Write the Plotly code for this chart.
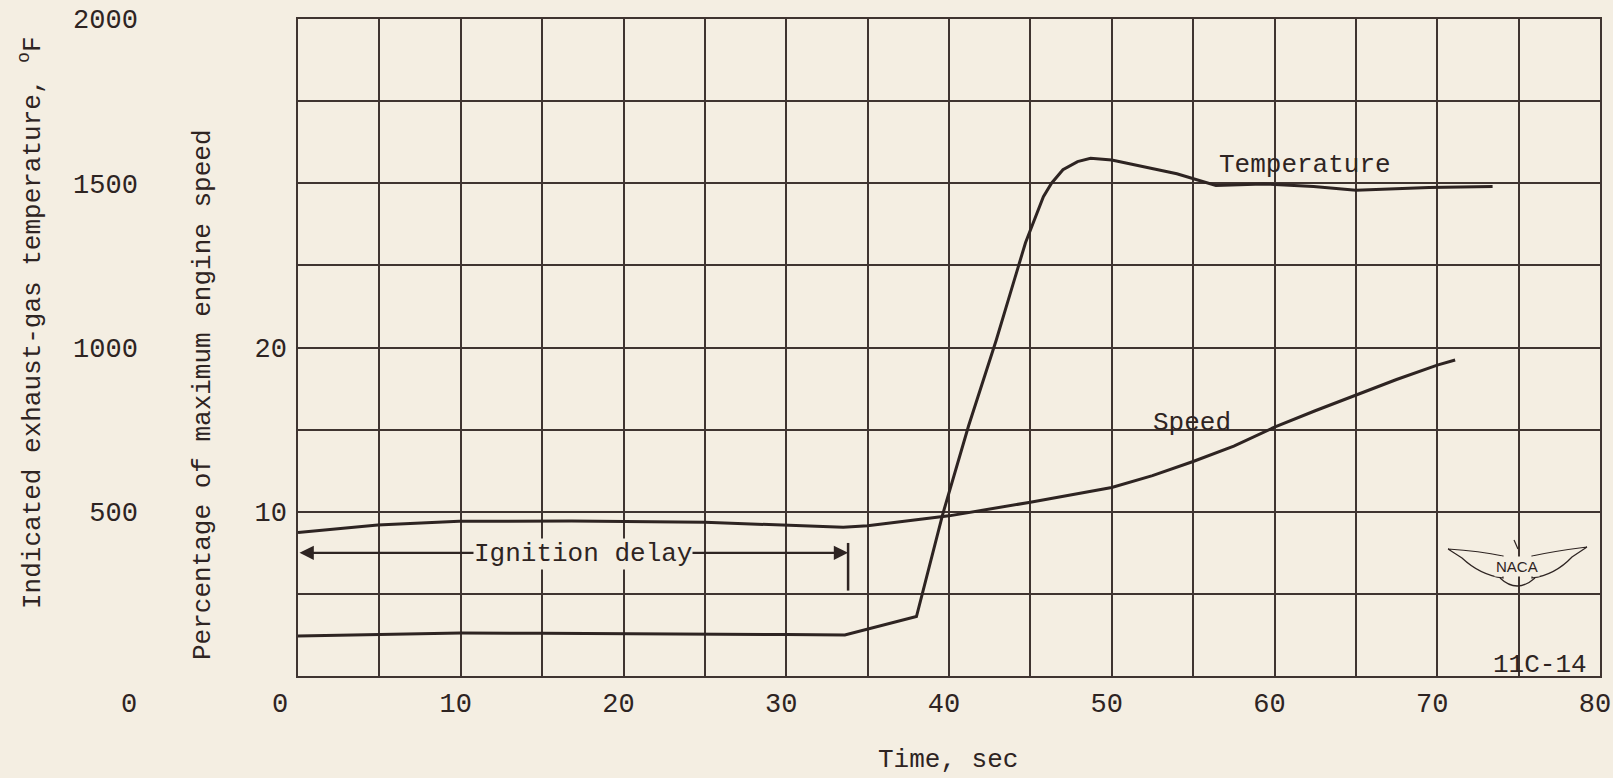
import plotly.graph_objects as go

# ---------------- data ----------------
time_temp = [0, 10, 15, 20, 25, 30, 33.6, 38.0, 39.6, 41.2, 42.9, 44.7, 45.8, 46.3,
             47.0, 47.9, 48.7, 50.0, 54.0, 55.2, 56.4, 59.3, 62.4, 65.0, 69.5, 73.4]
temp_f = [122, 131, 130, 128, 127, 126, 125, 181, 490, 761, 1022, 1319, 1459, 1500,
          1541, 1566, 1576, 1571, 1529, 1510, 1493, 1498, 1490, 1479, 1487, 1490]

time_speed = [0, 4.9, 9.9, 16.8, 25, 30, 33.5, 35, 40, 45, 50, 52.5, 55, 57.5, 60,
              62.5, 65, 67.5, 70, 71.1]
speed_pct = [8.73, 9.20, 9.42, 9.43, 9.36, 9.17, 9.05, 9.15, 9.75, 10.58, 11.48, 12.2,
             13.06, 14.0, 15.15, 16.15, 17.1, 18.05, 18.93, 19.24]

x_tick_vals = [10, 20, 30, 40, 50, 60, 70, 80]
x_tick_text = ["10", "20", "30", "40", "50", "60", "70", "80"]
x_zero_text = "0"
temp_tick_vals = [500, 1000, 1500, 2000]
temp_tick_text = ["500", "1000", "1500", "2000"]
temp_zero_text = "0"
speed_tick_vals = [10, 20]
speed_tick_text = ["10", "20"]

ignition_start = 0
ignition_end = 33.8
ignition_arrow_pct = 7.5
ignition_bar_pct = [5.2, 8.1]

temp_label = dict(text="Temperature", t=61.9, v=1555)
speed_label = dict(text="Speed", t=54.9, v=15.4)

# ---------------- style ----------------
BG = "#f4eee2"
INK = "#2e2422"
GRID = "#3f3430"
FONT = "Liberation Mono"
FS = 26
TFS = 27
W, H = 1613, 778
ML, MR, MT, MB = 298, 13, 19, 102
PW, PH = W - ML - MR, H - MT - MB


def px2paper(px, py):
    return (px - ML) / PW, (H - MB - py) / PH


fig = go.Figure()
fig.add_trace(go.Scatter(x=time_temp, y=temp_f, mode="lines", yaxis="y",
                         line=dict(color=INK, width=3), showlegend=False, hoverinfo="skip"))
fig.add_trace(go.Scatter(x=time_speed, y=speed_pct, mode="lines", yaxis="y2",
                         line=dict(color=INK, width=3), showlegend=False, hoverinfo="skip"))

fig.update_layout(
    width=W, height=H,
    margin=dict(l=ML, r=MR, t=MT, b=MB, pad=0, autoexpand=False),
    paper_bgcolor=BG, plot_bgcolor=BG,
    font=dict(family=FONT, size=FS, color=INK),
    xaxis=dict(range=[0, 80], tickvals=x_tick_vals, ticktext=x_tick_text,
               showgrid=True, gridcolor=GRID, gridwidth=1.5,
               minor=dict(dtick=5, tick0=0, showgrid=True, gridcolor=GRID, gridwidth=1.5),
               showline=True, linecolor=GRID, linewidth=1.5, mirror=True, automargin=False,
               zeroline=False, ticks="", ticklabelstandoff=2, ticklabelshift=-5,
               tickfont=dict(family=FONT, size=TFS, color=INK)),
    yaxis=dict(range=[0, 2000], tickvals=temp_tick_vals, ticktext=temp_tick_text,
               showgrid=True, gridcolor=GRID, gridwidth=1.5,
               minor=dict(dtick=250, tick0=0, showgrid=True, gridcolor=GRID, gridwidth=1.5),
               showline=True, linecolor=GRID, linewidth=1.5, mirror=True, automargin=False,
               zeroline=False, ticks="", ticklabelstandoff=153,
               tickfont=dict(family=FONT, size=TFS, color=INK)),
    yaxis2=dict(range=[0, 40], tickvals=speed_tick_vals, ticktext=speed_tick_text,
                overlaying="y", side="left", anchor="x", showgrid=False, automargin=False,
                zeroline=False, showline=False, ticks="", ticklabelstandoff=10,
                tickfont=dict(family=FONT, size=TFS, color=INK)),
)

ann = []
# axis titles
tx, ty = px2paper(31, 323)
ann.append(dict(text="Indicated exhaust-gas temperature, <sup>o</sup>F", xref="paper", yref="paper",
                x=tx, y=ty, textangle=-90, showarrow=False, xanchor="center", yanchor="middle",
                font=dict(family=FONT, size=FS, color=INK)))
tx, ty = px2paper(203, 395)
ann.append(dict(text="Percentage of maximum engine speed", xref="paper", yref="paper",
                x=tx, y=ty, textangle=-90, showarrow=False, xanchor="center", yanchor="middle",
                font=dict(family=FONT, size=FS, color=INK)))
tx, ty = px2paper(948, 760)
ann.append(dict(text="Time, sec", xref="paper", yref="paper", x=tx, y=ty, showarrow=False,
                xanchor="center", yanchor="middle", font=dict(family=FONT, size=FS, color=INK)))
# zero labels
ann.append(dict(text=temp_zero_text, xref="paper", yref="y", x=0, y=0, xanchor="right",
                yanchor="middle", xshift=-159, yshift=-29, showarrow=False,
                font=dict(family=FONT, size=TFS, color=INK)))
ann.append(dict(text=x_zero_text, xref="x", yref="y", x=0, y=0, xanchor="center",
                yanchor="middle", xshift=-18, yshift=-29, showarrow=False,
                font=dict(family=FONT, size=TFS, color=INK)))
# curve labels
ann.append(dict(text=temp_label["text"], x=temp_label["t"], y=temp_label["v"], xref="x", yref="y",
                showarrow=False, font=dict(family=FONT, size=FS, color=INK)))
ann.append(dict(text=speed_label["text"], x=speed_label["t"], y=speed_label["v"], xref="x", yref="y2",
                showarrow=False, font=dict(family=FONT, size=FS, color=INK)))
# ignition delay double arrow
ann.append(dict(text="", x=ignition_end, y=ignition_arrow_pct, xref="x", yref="y2",
                ax=ignition_start, ay=ignition_arrow_pct, axref="x", ayref="y2",
                showarrow=True, arrowhead=2, startarrowhead=2, arrowside="end+start",
                arrowsize=1.3, startarrowsize=1.3, arrowwidth=2.2, arrowcolor=INK,
                standoff=0, startstandoff=0))
ann.append(dict(text="Ignition delay", x=(ignition_start + ignition_end) / 2 + 0.6,
                y=ignition_arrow_pct - 0.1, xref="x", yref="y2", showarrow=False,
                bgcolor=BG, borderpad=0, font=dict(family=FONT, size=FS, color=INK)))
# report number
tx, ty = px2paper(1540, 665)
ann.append(dict(text="11C-14", xref="paper", yref="paper", x=tx, y=ty, showarrow=False,
                xanchor="center", yanchor="middle",
                font=dict(family=FONT, size=FS, color=INK)))
# NACA logo text
tx, ty = px2paper(1517, 566)
ann.append(dict(text="NACA", xref="paper", yref="paper", x=tx, y=ty, showarrow=False,
                xanchor="center", yanchor="middle", bgcolor=BG, borderpad=1,
                font=dict(family="Liberation Sans", size=15, color=INK)))
fig.update_layout(annotations=ann)

shapes = [dict(type="line", xref="x", yref="y2", x0=ignition_end, x1=ignition_end,
               y0=ignition_bar_pct[0], y1=ignition_bar_pct[1], line=dict(color=INK, width=2.5))]


def path_from_px(points):
    parts = []
    for cmd, pts in points:
        coords = " ".join("%.5f,%.5f" % px2paper(a, b) for a, b in pts)
        parts.append(cmd + " " + coords)
    return " ".join(parts)


logo_paths = [
    # left wing
    [("M", [(1448, 549)]), ("Q", [(1480, 551), (1503, 556)]), ("L", [(1503, 578)]),
     ("Q", [(1480, 575), (1462, 558)]), ("L", [(1448, 549)])],
    # right wing
    [("M", [(1587, 547)]), ("Q", [(1555, 551), (1532, 556)]), ("L", [(1532, 578)]),
     ("Q", [(1555, 575), (1572, 557)]), ("L", [(1587, 547)])],
    # bottom arc
    [("M", [(1500, 578)]), ("Q", [(1517, 594), (1535, 578)])],
    # top tick
    [("M", [(1514, 540)]), ("L", [(1518, 549)])],
]
for p in logo_paths:
    shapes.append(dict(type="path", xref="paper", yref="paper", path=path_from_px(p),
                       line=dict(color=INK, width=1.2), fillcolor="rgba(0,0,0,0)"))
fig.update_layout(shapes=shapes)

fig.write_html("out.html", config={"displayModeBar": False},
               post_script="document.body.style.margin='0';document.body.style.overflow='hidden';")
